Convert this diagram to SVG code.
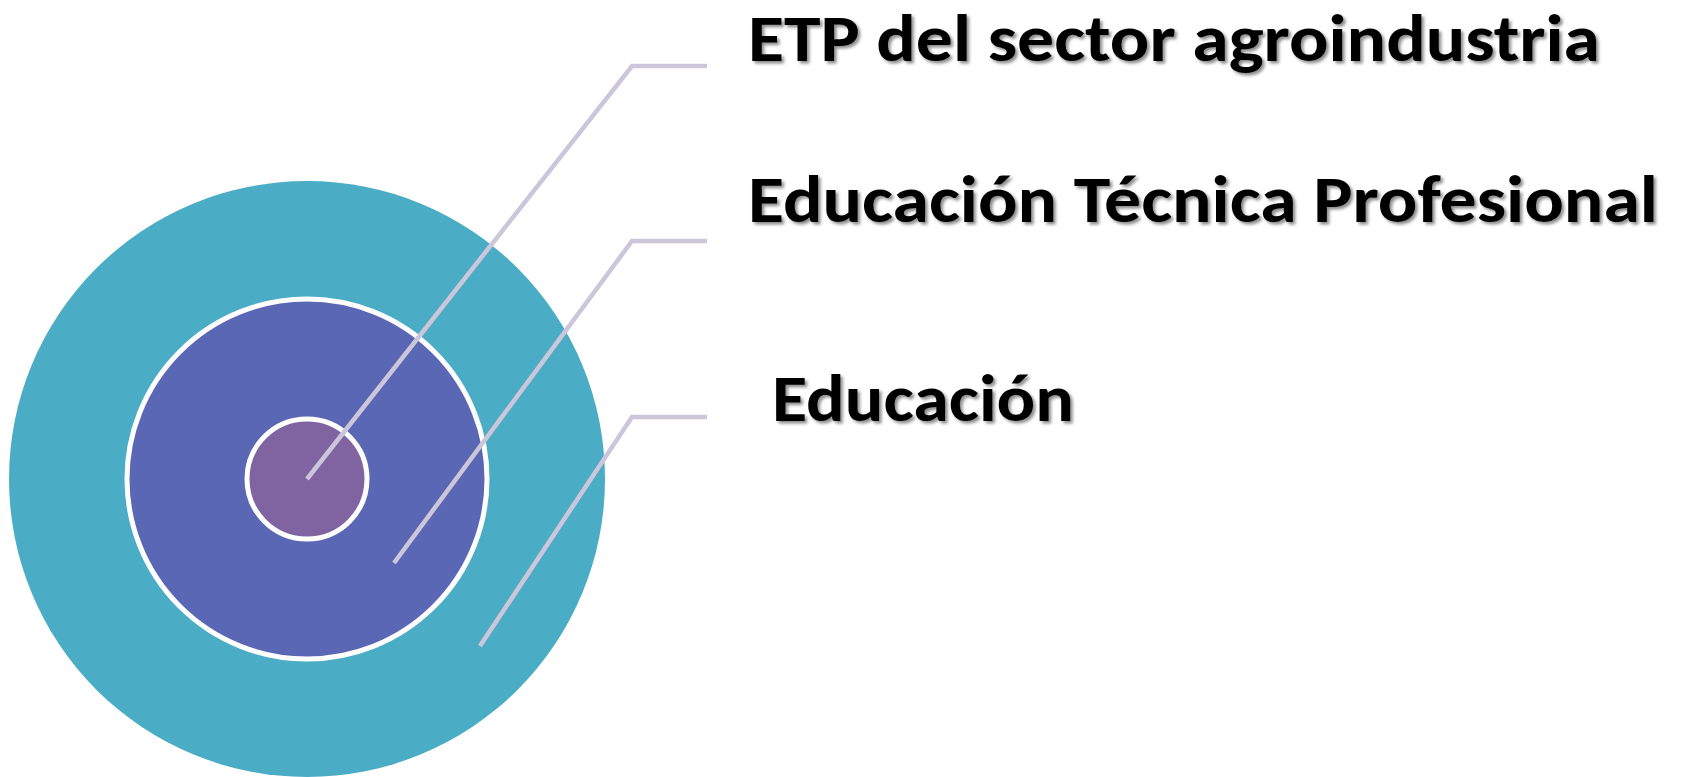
<svg xmlns="http://www.w3.org/2000/svg" width="1688" height="777" viewBox="0 0 1688 777">
  <defs>
    <filter id="shadow" x="-5%" y="-30%" width="110%" height="160%">
      <feDropShadow dx="2.5" dy="2.5" stdDeviation="1.8" flood-color="#000" flood-opacity="0.45"/>
    </filter>
  </defs>
  <style>
    .ring { stroke: #FFFFFF; stroke-width: 5; }
    .conn { fill: none; stroke: #CCC6DA; stroke-width: 4.5; stroke-linecap: butt; stroke-linejoin: miter; }
    .label { font-family: Carlito, Calibri, Lato, "Open Sans", sans-serif; font-weight: 700; font-size: 67px; fill: #000000; filter: url(#shadow); }
  </style>
  <rect width="1688" height="777" fill="#FFFFFF"/>
  <g id="node-educacion">
    <circle cx="307" cy="479" r="298" fill="#4BACC6"/>
  </g>
  <g id="node-etp">
    <circle class="ring" cx="307" cy="479" r="180" fill="#5A67B4"/>
  </g>
  <g id="node-etp-agro">
    <circle class="ring" cx="307" cy="479" r="60" fill="#8064A2"/>
  </g>
  <g id="connectors">
    <polyline class="conn" points="307,479 632,66 707,66"/>
    <polyline class="conn" points="394,563 632,241 707,241"/>
    <polyline class="conn" points="480,646 632,417 707,417"/>
  </g>
  <g id="labels">
    <text class="label" x="748" y="61" textLength="852" lengthAdjust="spacingAndGlyphs">ETP del sector agroindustria</text>
    <text class="label" x="748" y="222" textLength="910" lengthAdjust="spacingAndGlyphs">Educación Técnica Profesional</text>
    <text class="label" x="772" y="421" textLength="302" lengthAdjust="spacingAndGlyphs">Educación</text>
  </g>
</svg>
